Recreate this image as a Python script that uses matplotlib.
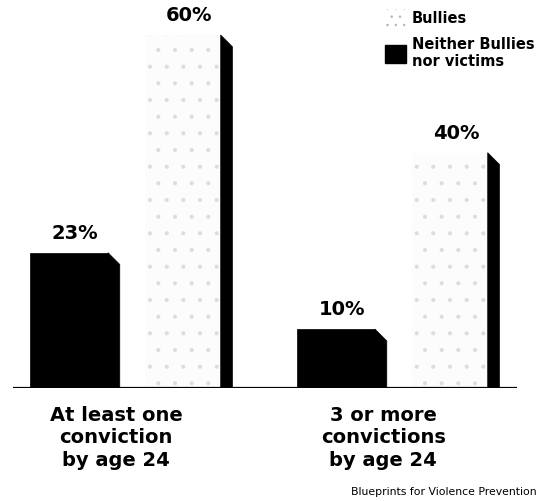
import matplotlib
matplotlib.use("Agg")
import matplotlib.pyplot as plt
from matplotlib.patches import Polygon, Patch

plt.rcParams['font.family'] = ['DejaVu Sans']
plt.rcParams['hatch.linewidth'] = 0.5

categories = ["At least one\nconviction\nby age 24", "3 or more\nconvictions\nby age 24"]
series_names = ["Bullies", "Neither Bullies\nnor victims"]
bullies = [60, 40]
neither = [23, 10]
value_labels_b = ["60%", "40%"]
value_labels_n = ["23%", "10%"]

fig = plt.figure(figsize=(5.46, 5.01), dpi=100)
ax = fig.add_axes([0, 0.2255, 1, 0.7545])
ax.set_xlim(-0.4906, 1.5543)
ax.set_ylim(0, 64.25)
ax.axis('off')

x = list(range(len(categories)))
off_n, off_b = -0.232, 0.195
w_n, w_b = 0.292, 0.282
side = 0.044
cham = 2.0

def side_poly(x_right, val, color):
    pts = [(x_right, 0), (x_right, val), (x_right + side, val - cham), (x_right + side, 0)]
    ax.add_patch(Polygon(pts, closed=True, facecolor=color, edgecolor=color, lw=0.5, zorder=3))

# Neither bars (black with chamfered side)
xn = [xi + off_n for xi in x]
ax.bar(xn, neither, width=w_n, color='black', edgecolor='black', lw=0.5, zorder=3)
for xi, v in zip(xn, neither):
    side_poly(xi + w_n / 2, v, 'black')

# Bullies bars (speckled light face with dark side)
xb = [xi + off_b for xi in x]
ax.bar(xb, bullies, width=w_b, facecolor='#fcfcfc', edgecolor='#dcdcdc', hatch='.', lw=0, zorder=3)
for xi, v in zip(xb, bullies):
    side_poly(xi + w_b / 2, v, 'black')

# value labels
for xi, v, t in zip(xn, neither, value_labels_n):
    ax.text(xi + side / 2, v + 1.7, t, ha='center', va='bottom', fontsize=14, fontweight='bold')
for xi, v, t in zip(xb, bullies, value_labels_b):
    ax.text(xi + side / 2, v + 1.7, t, ha='center', va='bottom', fontsize=14, fontweight='bold')

# baseline
ax.plot([-0.442, 1.446], [0, 0], color='black', lw=1.6, zorder=4, solid_capstyle='butt')

# category labels
for xi, lab in zip(x, categories):
    ax.text(xi - 0.055, -3.0, lab, ha='center', va='top', fontsize=14, fontweight='bold',
            linespacing=1.25)

# legend
handles = [Patch(facecolor='white', edgecolor='#b0b0b0', hatch='..', lw=0),
           Patch(facecolor='black', edgecolor='black')]
leg = fig.legend(handles, series_names, loc='upper left', bbox_to_anchor=(372 / 546, 1 + 4 / 501),
                 frameon=False, prop={'weight': 'bold', 'size': 10.5}, handlelength=1.4,
                 handleheight=1.5, handletextpad=0.45, labelspacing=0.68)

fig.text(537 / 546, 1 - 492 / 501, "Blueprints for Violence Prevention", ha='right', va='center',
         fontsize=7.8)

fig.savefig("out.png", dpi=100)
